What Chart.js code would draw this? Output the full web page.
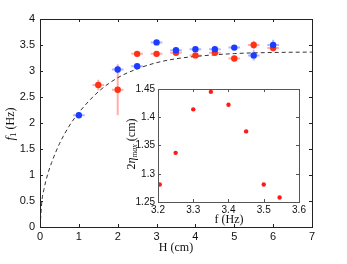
<!DOCTYPE html>
<html>
<head>
<meta charset="utf-8">
<script src="https://cdn.jsdelivr.net/npm/chart.js@4.4.1/dist/chart.umd.min.js"></script>
<style>
html, body { margin: 0; padding: 0; background: #fff; }
#wrap { position: relative; width: 347px; height: 264px; }
#mainChart { position: absolute; left: 0; top: 0; width: 347px; height: 264px; }
#insetChart { position: absolute; left: 110px; top: 80px; width: 200px; height: 160px; }
</style>
</head>
<body>
<div id="wrap">
    <canvas id="mainChart" width="347" height="264"></canvas>
    <canvas id="insetChart" width="200" height="160"></canvas>
</div>
<script>
// main plot: f1 vs H
const blueH = [1, 2, 2.5, 3, 3.5, 4, 4.5, 5, 5.5, 6];
const blueF = [2.15, 3.03, 3.09, 3.55, 3.40, 3.42, 3.42, 3.45, 3.30, 3.50];
const blueErr = [0.05, 0.07, 0.04, 0.04, 0.05, 0.05, 0.05, 0.05, 0.1, 0.1];

const redH = [1.5, 2, 2.5, 3, 3.5, 4, 4.5, 5, 5.5, 6];
const redF = [2.73, 2.64, 3.33, 3.33, 3.35, 3.30, 3.35, 3.24, 3.50, 3.44];
const redErr = [0.1, 0.49, 0.04, 0.04, 0.04, 0.05, 0.04, 0.05, 0.08, 0.06];

const hErr = 0.15;

// dashed model curve
const curveH = [0, 0.05, 0.1, 0.2, 0.3, 0.5, 0.75, 1, 1.5, 2, 2.5, 3, 3.5, 4, 5, 6, 7];
const curveF = [0, 0.51, 0.72, 1.02, 1.24, 1.60, 1.94, 2.20, 2.60, 2.87, 3.04, 3.16, 3.235, 3.28, 3.335, 3.356, 3.364];

// inset: 2*eta_max vs f
const insetF = [3.205, 3.25, 3.30, 3.35, 3.40, 3.45, 3.50, 3.545];
const insetEta = [1.281, 1.337, 1.414, 1.445, 1.422, 1.375, 1.281, 1.258];

const mainXTicks = [0, 1, 2, 3, 4, 5, 6, 7];
const mainYTicks = [0, 0.5, 1, 1.5, 2, 2.5, 3, 3.5, 4];
const insetXTicks = [3.2, 3.3, 3.4, 3.5, 3.6];
const insetYTicks = [1.25, 1.3, 1.35, 1.4, 1.45];

const sansFamily = "'Liberation Sans', Arial, sans-serif";
const serif = "'Liberation Serif', 'DejaVu Serif', serif";

function toPoints(xs, ys) {
    return xs.map(function(x, i) { return { x: x, y: ys[i] }; });
}

function plainLabel(value) {
    return String(Number(value.toFixed(3)));
}

function drawParts(ctx, parts, cx, cy, rotate) {
    ctx.save();
    ctx.translate(cx, cy);
    if (rotate) ctx.rotate(-Math.PI / 2);
    ctx.textBaseline = 'middle';
    ctx.textAlign = 'left';
    ctx.fillStyle = '#111';
    let total = 0;
    parts.forEach(function(p) {
        ctx.font = p.font;
        total += ctx.measureText(p.t).width;
    });
    let x = -total / 2;
    parts.forEach(function(p) {
        ctx.font = p.font;
        ctx.fillText(p.t, x, p.dy || 0);
        x += ctx.measureText(p.t).width;
    });
    ctx.restore();
}

const framePlugin = {
    id: 'frame',
    beforeDatasetsDraw(chart, args, opts) {
        if (!opts.fill) return;
        const a = chart.chartArea;
        chart.ctx.save();
        chart.ctx.fillStyle = '#fff';
        chart.ctx.fillRect(a.left, a.top, a.right - a.left, a.bottom - a.top);
        chart.ctx.restore();
    },
    afterDraw(chart, args, opts) {
        const ctx = chart.ctx;
        const a = chart.chartArea;
        const xs = chart.scales.x;
        const ys = chart.scales.y;
        const len = opts.tick || 3;
        ctx.save();
        ctx.strokeStyle = opts.color || '#333';
        ctx.lineWidth = 1;
        ctx.beginPath();
        xs.ticks.forEach(function(t) {
            const px = Math.round(xs.getPixelForValue(t.value)) + 0.5;
            ctx.moveTo(px, a.bottom); ctx.lineTo(px, a.bottom - len);
            ctx.moveTo(px, a.top); ctx.lineTo(px, a.top + len);
        });
        ys.ticks.forEach(function(t) {
            const py = Math.round(ys.getPixelForValue(t.value)) + 0.5;
            ctx.moveTo(a.left, py); ctx.lineTo(a.left + len, py);
            ctx.moveTo(a.right, py); ctx.lineTo(a.right - len, py);
        });
        ctx.stroke();
        ctx.strokeRect(Math.round(a.left) + 0.5, Math.round(a.top) + 0.5,
            Math.round(a.right - a.left), Math.round(a.bottom - a.top));
        ctx.restore();
        (opts.titles || []).forEach(function(tt) {
            drawParts(ctx, tt.parts, tt.x, tt.y, tt.rotate);
        });
    }
};

const errorBarPlugin = {
    id: 'errorBars',
    beforeDatasetsDraw(chart) {
        const ctx = chart.ctx;
        const xs = chart.scales.x;
        const ys = chart.scales.y;
        chart.data.datasets.forEach(function(ds) {
            if (!ds.errY) return;
            ctx.save();
            ctx.strokeStyle = ds.errColor;
            ctx.lineWidth = 2;
            ds.data.forEach(function(p, i) {
                const px = xs.getPixelForValue(p.x);
                const py = ys.getPixelForValue(p.y);
                ctx.beginPath();
                ctx.moveTo(xs.getPixelForValue(p.x - ds.errX), py);
                ctx.lineTo(xs.getPixelForValue(p.x + ds.errX), py);
                ctx.moveTo(px, ys.getPixelForValue(p.y - ds.errY[i]));
                ctx.lineTo(px, ys.getPixelForValue(p.y + ds.errY[i]));
                ctx.stroke();
            });
            ctx.restore();
        });
    }
};

function tickValues(list) {
    return function(scale) {
        scale.ticks = list.map(function(v) { return { value: v }; });
    };
}

new Chart(document.getElementById('mainChart'), {
    type: 'scatter',
    data: {
        datasets: [{
            type: 'line',
            data: toPoints(curveH, curveF),
            borderColor: '#333',
            borderWidth: 1,
            borderDash: [4, 3],
            pointRadius: 0,
            cubicInterpolationMode: 'monotone',
            fill: false,
            order: 3
        }, {
            data: toPoints(redH, redF),
            backgroundColor: '#ff3216',
            borderWidth: 0,
            pointRadius: 3.2,
            errY: redErr,
            errX: hErr,
            errColor: 'rgba(255, 110, 100, 0.55)',
            order: 2
        }, {
            data: toPoints(blueH, blueF),
            backgroundColor: '#1e3cff',
            borderWidth: 0,
            pointRadius: 3.2,
            errY: blueErr,
            errX: hErr,
            errColor: 'rgba(100, 130, 255, 0.55)',
            order: 1
        }]
    },
    options: {
        responsive: false,
        animation: false,
        layout: { padding: { left: 0, right: 35, top: 19, bottom: 0 } },
        plugins: {
            legend: { display: false },
            tooltip: { enabled: false },
            frame: {
                color: '#222',
                tick: 3,
                titles: [{
                    x: 176, y: 248, rotate: false,
                    parts: [{ t: 'H (cm)', font: '12px ' + serif }]
                }, {
                    x: 11, y: 124, rotate: true,
                    parts: [
                        { t: 'f', font: 'italic 13px ' + serif },
                        { t: '1', font: '9px ' + serif, dy: 3 },
                        { t: ' (Hz)', font: '12px ' + serif }
                    ]
                }]
            }
        },
        scales: {
            x: {
                type: 'linear',
                min: 0,
                max: 7,
                afterBuildTicks: tickValues(mainXTicks),
                afterFit: function(scale) { scale.height = 37; },
                grid: { display: false, drawTicks: false },
                border: { display: false },
                ticks: { color: '#111', font: { family: sansFamily, size: 11 }, padding: 3, maxRotation: 0, callback: plainLabel }
            },
            y: {
                min: 0,
                max: 4,
                afterBuildTicks: tickValues(mainYTicks),
                afterFit: function(scale) { scale.width = 40; },
                grid: { display: false, drawTicks: false },
                border: { display: false },
                ticks: { color: '#111', font: { family: sansFamily, size: 11 }, padding: 5, callback: plainLabel }
            }
        }
    },
    plugins: [errorBarPlugin, framePlugin]
});

new Chart(document.getElementById('insetChart'), {
    type: 'scatter',
    data: {
        datasets: [{
            data: toPoints(insetF, insetEta),
            backgroundColor: '#ff1a1a',
            borderWidth: 0,
            pointRadius: 2.2
        }]
    },
    options: {
        responsive: false,
        animation: false,
        layout: { padding: { left: 0, right: 11, top: 7, bottom: 0 } },
        plugins: {
            legend: { display: false },
            tooltip: { enabled: false },
            frame: {
                fill: true,
                color: '#555',
                tick: 3,
                titles: [{
                    x: 119, y: 140, rotate: false,
                    parts: [{ t: 'f (Hz)', font: '12px ' + serif }]
                }, {
                    x: 22, y: 64, rotate: true,
                    parts: [
                        { t: '2', font: '12px ' + serif },
                        { t: 'η', font: 'italic 12px ' + serif },
                        { t: 'max', font: 'italic 8px ' + serif, dy: 3 },
                        { t: ' (cm)', font: '12px ' + serif }
                    ]
                }]
            }
        },
        scales: {
            x: {
                type: 'linear',
                min: 3.2,
                max: 3.6,
                afterBuildTicks: tickValues(insetXTicks),
                afterFit: function(scale) { scale.height = 38; },
                grid: { display: false, drawTicks: false },
                border: { display: false },
                ticks: { color: '#111', font: { family: sansFamily, size: 10 }, padding: 2, maxRotation: 0, callback: plainLabel }
            },
            y: {
                min: 1.25,
                max: 1.45,
                afterBuildTicks: tickValues(insetYTicks),
                afterFit: function(scale) { scale.width = 48; },
                grid: { display: false, drawTicks: false },
                border: { display: false },
                ticks: { color: '#111', font: { family: sansFamily, size: 10 }, padding: 3, callback: plainLabel }
            }
        }
    },
    plugins: [framePlugin]
});
</script>
</body>
</html>
